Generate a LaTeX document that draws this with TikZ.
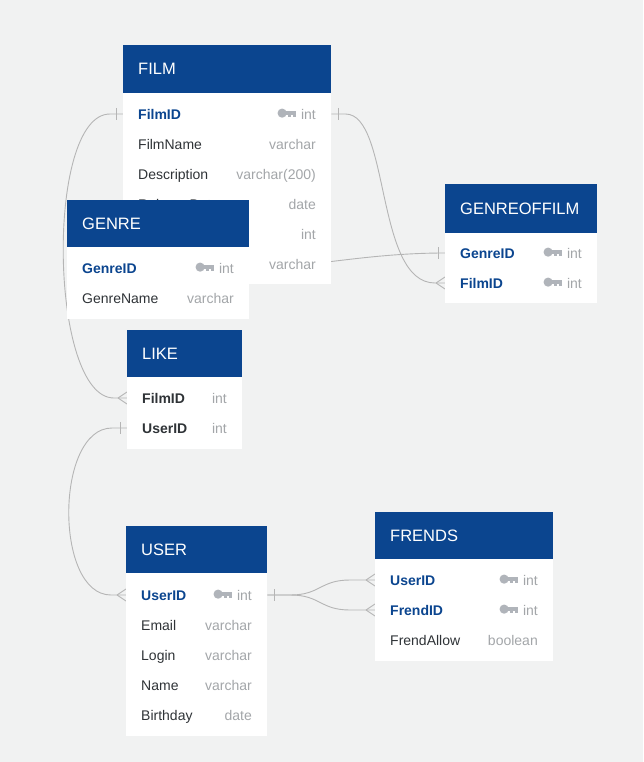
\documentclass[tikz,border=0pt]{standalone}
\usepackage{fontspec}
\setmainfont{Liberation Sans}
\usetikzlibrary{calc}
\pgfdeclarelayer{back}
\pgfdeclarelayer{bg}
\pgfsetlayers{back,bg,main}
\definecolor{hdrblue}{HTML}{0B458F}
\definecolor{keyblue}{HTML}{0B458F}
\definecolor{bgc}{HTML}{F1F2F2}
\definecolor{typegray}{HTML}{A3A6A9}
\definecolor{namegray}{HTML}{2F3337}
\definecolor{linegray}{HTML}{B5B5B5}
\definecolor{keygray}{HTML}{B0B4BA}
\tikzset{
 hdrbox/.style={fill=hdrblue, draw=none, anchor=north west, inner sep=0pt},
 bodybox/.style={fill=white, draw=none, anchor=north west, inner sep=0pt},
 rowbox/.style={draw=none, anchor=west, minimum height=30pt, inner sep=0pt},
 hdrtext/.style={text=white, font=\fontsize{16.5}{18}\selectfont, anchor=mid west, inner sep=0pt},
 pkname/.style={text=keyblue, font=\bfseries\fontsize{14}{16}\selectfont, anchor=mid west, inner sep=0pt},
 fkname/.style={text=namegray, font=\bfseries\fontsize{14}{16}\selectfont, anchor=mid west, inner sep=0pt},
 fieldname/.style={text=namegray, font=\fontsize{14}{16}\selectfont, anchor=mid west, inner sep=0pt},
 typetext/.style={text=typegray, font=\fontsize{14}{16}\selectfont, anchor=mid east, inner sep=0pt},
 rel/.style={draw=linegray, line width=0.9pt},
 keyicon/.pic={
   \fill[keygray] (4.3,0) circle[radius=4.6pt];
   \fill[keygray] (6,-2.6) rectangle (18.5,1.6);
   \fill[keygray] (10.5,1) rectangle (13.2,4);
   \fill[keygray] (14.8,1) rectangle (18.5,4);
 },
}
% table: id, xl, xr, ytop, yhdr, ybottom, title
\newcommand{\ertable}[7]{%
 \node[hdrbox, minimum width={#3pt-#2pt}, minimum height={#5pt-#4pt}] (#1) at (#2,#4) {};
 \node[bodybox, minimum width={#3pt-#2pt}, minimum height={#6pt-#5pt}] (#1-body) at (#2,#5) {};
 \node[hdrtext] (#1-title) at (#2+15,{(#4+#5)/2+3}) {#7};
}
% row: id, xl, xr, y, name style, field, type
\newcommand{\errow}[7]{%
 \node[rowbox, minimum width={#3pt-#2pt}] (#1) at (#2,#4) {};
 \node[#5] (#1-n) at (#2+15,#4+3) {#6};
 \node[typetext] (#1-t) at (#3-15,#4+3) {#7};
}
\newcommand{\erkey}[1]{\pic at ($(#1-t.west)+(-23,-1.5)$) {keyicon};}
\newcommand{\erbarL}[1]{\draw[rel] ($(#1.west)+(-7,-6)$) -- +(0,12);}
\newcommand{\erbarR}[1]{\draw[rel] ($(#1.east)+(7,-6)$) -- +(0,12);}
\newcommand{\ercrowL}[1]{\draw[rel] ($(#1.west)+(-9,0)$) -- +(9,-6) ($(#1.west)+(-9,0)$) -- +(9,6);}
\begin{document}
\begin{tikzpicture}[x=1pt,y=-1pt]
\begin{pgfonlayer}{back}
\fill[bgc] (0,0) rectangle (643,762);
\end{pgfonlayer}
\useasboundingbox (0,0) rectangle (643,762);
% FILM
\ertable{film}{123}{331}{45}{93}{284}{FILM}
\errow{film-r1}{123}{331}{114}{pkname}{FilmID}{int}\erkey{film-r1}
\errow{film-r2}{123}{331}{144}{fieldname}{FilmName}{varchar}
\errow{film-r3}{123}{331}{174}{fieldname}{Description}{varchar(200)}
\errow{film-r4}{123}{331}{204}{fieldname}{ReleaseDate}{date}
\errow{film-r5}{123}{331}{234}{fieldname}{}{int}
\errow{film-r6}{123}{331}{264}{fieldname}{}{varchar}
% GENREOFFILM
\ertable{gof}{445}{597}{184}{233}{303}{GENREOFFILM}
\errow{gof-r1}{445}{597}{253}{pkname}{GenreID}{int}\erkey{gof-r1}
\errow{gof-r2}{445}{597}{283}{pkname}{FilmID}{int}\erkey{gof-r2}
% GENRE
\ertable{genre}{67}{249}{200}{247}{319}{GENRE}
\errow{genre-r1}{67}{249}{268}{pkname}{GenreID}{int}\erkey{genre-r1}
\errow{genre-r2}{67}{249}{298}{fieldname}{GenreName}{varchar}
% LIKE
\ertable{like}{127}{242}{330}{377}{449}{LIKE}
\errow{like-r1}{127}{242}{398}{fkname}{FilmID}{int}
\errow{like-r2}{127}{242}{428}{fkname}{UserID}{int}
% USER
\ertable{user}{126}{267}{526}{573}{736}{USER}
\errow{user-r1}{126}{267}{595}{pkname}{UserID}{int}\erkey{user-r1}
\errow{user-r2}{126}{267}{625}{fieldname}{Email}{varchar}
\errow{user-r3}{126}{267}{655}{fieldname}{Login}{varchar}
\errow{user-r4}{126}{267}{685}{fieldname}{Name}{varchar}
\errow{user-r5}{126}{267}{715}{fieldname}{Birthday}{date}
% FRENDS
\ertable{fr}{375}{553}{512}{559}{661}{FRENDS}
\errow{fr-r1}{375}{553}{580}{pkname}{UserID}{int}\erkey{fr-r1}
\errow{fr-r2}{375}{553}{610}{pkname}{FrendID}{int}\erkey{fr-r2}
\errow{fr-r3}{375}{553}{640}{fieldname}{FrendAllow}{boolean}
% connectors
\begin{pgfonlayer}{bg}
 % FILM.FilmID -> LIKE.FilmID
 \draw[rel] (film-r1.west) -- ++(-13,0) .. controls +(-65,0) and +(-65,0) .. ($(like-r1.west)+(-13,0)$) -- (like-r1.west);
 \erbarL{film-r1}
 \ercrowL{like-r1}
 % FILM.FilmID -> GENREOFFILM.FilmID
 \draw[rel] (film-r1.east) -- ++(14,0) .. controls +(45,0) and +(-60,0) .. ($(gof-r2.west)+(-10,0)$) -- (gof-r2.west);
 \erbarR{film-r1}
 \ercrowL{gof-r2}
 % GENRE.GenreID -> GENREOFFILM.GenreID
 \draw[rel] (genre-r1.east) .. controls +(60,0) and +(-80,0) .. (gof-r1.west);
 \erbarL{gof-r1}
 % LIKE.UserID -> USER.UserID
 \draw[rel] (like-r2.west) -- ++(-15,0) .. controls +(-57,0) and +(-57,0) .. ($(user-r1.west)+(-15,0)$) -- (user-r1.west);
 \erbarL{like-r2}
 \ercrowL{user-r1}
 % USER.UserID -> FRENDS
 \draw[rel] (user-r1.east) -- ++(23,0) .. controls +(30,0) and +(-30,0) .. ($(fr-r1.west)+(-25,0)$) -- (fr-r1.west);
 \draw[rel] (user-r1.east) -- ++(23,0) .. controls +(30,0) and +(-30,0) .. ($(fr-r2.west)+(-25,0)$) -- (fr-r2.west);
 \erbarR{user-r1}
 \ercrowL{fr-r1}
 \ercrowL{fr-r2}
\end{pgfonlayer}
\end{tikzpicture}
\end{document}
